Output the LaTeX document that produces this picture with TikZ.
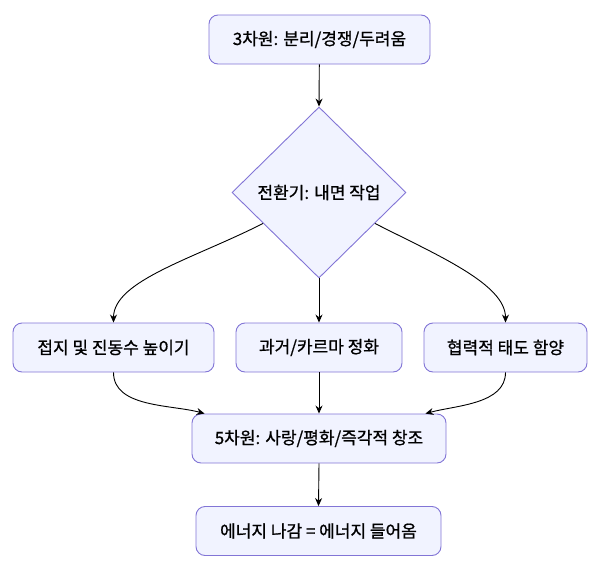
\documentclass[tikz,border=0pt]{standalone}
\usepackage{fontspec}
\setmainfont[FakeBold=0.9,AutoFakeBold=0.9]{Noto Sans CJK KR}
\usetikzlibrary{shapes.geometric,arrows.meta,calc}
\definecolor{boxfill}{HTML}{F1F3FF}
\definecolor{boxline}{HTML}{8275D6}
\tikzset{
  lbl/.style={font=\fontsize{17}{19}\selectfont\bfseries},
  box/.style={draw=boxline, fill=boxfill, line width=0.9pt, rounded corners=9pt,
    minimum height=49pt, inner sep=0pt, lbl},
  dia/.style={draw=boxline, fill=boxfill, line width=0.9pt, shape=diamond,
    minimum width=174pt, minimum height=171pt, inner sep=0pt, lbl},
  conn/.style={draw=black, line width=0.9pt, -{Stealth[length=8pt,width=7pt]}}
}
\begin{document}
\begin{tikzpicture}[x=1pt,y=1pt]
\useasboundingbox (0,0) rectangle (600,-570);
\node[box, minimum width=221pt] (a) at (319.5,-39.5) {3차원: 분리/경쟁/두려움};
\node[dia] (d) at (319,-192.5) {전환기: 내면 작업};
\node[box, minimum width=201pt] (l) at (113.5,-347.5) {접지 및 진동수 높이기};
\node[box, minimum width=166pt] (m) at (319,-347.5) {과거/카르마 정화};
\node[box, minimum width=163pt] (r) at (505.5,-347.5) {협력적 태도 함양};
\node[box, minimum width=254pt] (f) at (319,-438.5) {5차원: 사랑/평화/즉각적 창조};
\node[box, minimum width=245pt] (e) at (318.5,-531) {에너지 나감 = 에너지 들어옴};
\coordinate (dl) at ($(d.west)!0.36!(d.south)$);
\coordinate (dr) at ($(d.east)!0.36!(d.south)$);
\coordinate (fl) at ($(f.north west)+(13,0)$);
\coordinate (fr) at ($(f.north east)+(-21,0)$);
\draw[conn] (a) -- (d.north);
\draw[conn] (dl) to[out=207,in=90,out looseness=1.1,in looseness=0.6] (l.north);
\draw[conn] (d.south) -- (m.north);
\draw[conn] (dr) to[out=-27,in=90,out looseness=1.1,in looseness=0.6] (r.north);
\draw[conn] (l.south) to[out=-90,in=165,looseness=0.9] (fl);
\draw[conn] (m.south) -- (f.north);
\draw[conn] (r.south) to[out=-90,in=15,looseness=0.9] (fr);
\draw[conn] (f.south) -- (e.north);
\end{tikzpicture}
\end{document}
